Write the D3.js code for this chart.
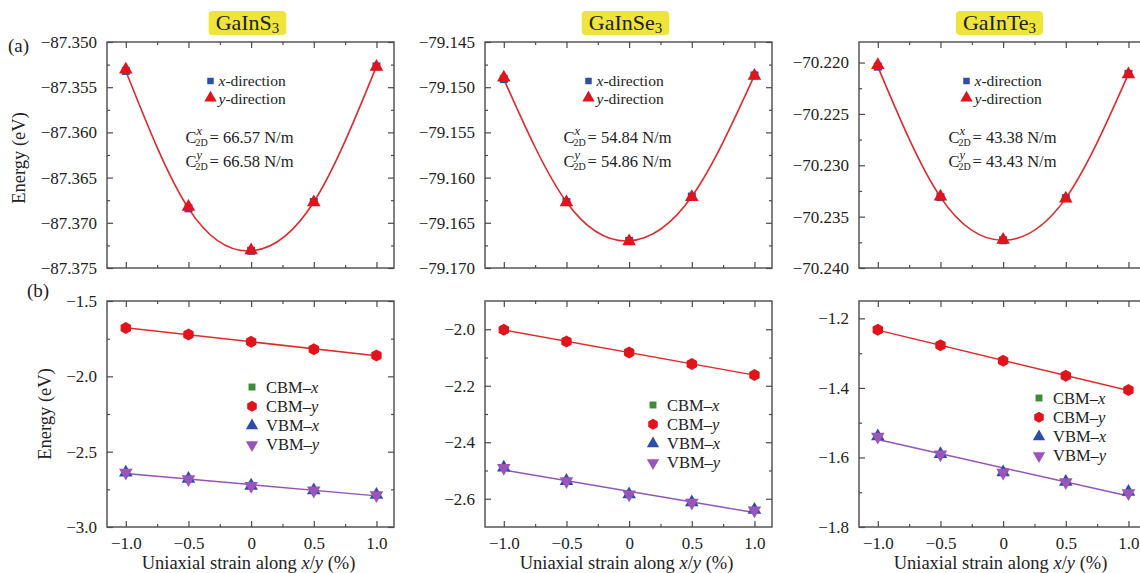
<!DOCTYPE html>
<html><head><meta charset="utf-8">
<script src="https://cdn.jsdelivr.net/npm/d3@7"></script>
<style>
body{margin:0;background:#fff}
svg{display:block}
text{font-family:"Liberation Serif","Times New Roman",serif;fill:#222}
</style>
</head><body><svg id="c" width="1140" height="573"></svg>
<script>
// ---------------- data ----------------
const strain = [-1, -0.5, 0, 0.5, 1];
const materialBase = ["GaInS", "GaInSe", "GaInTe"];
const materialSub = ["3", "3", "3"];
const c2dX = ["66.57", "54.84", "43.38"];
const c2dY = ["66.58", "54.86", "43.43"];

// total energy (eV) – panel (a)
const totalS_x  = [-87.3532, -87.3684, -87.3731, -87.3677, -87.3527];
const totalS_y  = [-87.3531, -87.3683, -87.3731, -87.3678, -87.3528];
const totalSe_x = [-79.1491, -79.1627, -79.1670, -79.1621, -79.1487];
const totalSe_y = [-79.1490, -79.1628, -79.1671, -79.1622, -79.1488];
const totalTe_x = [-70.2204, -70.2331, -70.2373, -70.2332, -70.2211];
const totalTe_y = [-70.2203, -70.2331, -70.2373, -70.2333, -70.2212];

// band edges (eV) – panel (b)
const cbmS_x  = [-1.679, -1.722, -1.771, -1.820, -1.862];
const cbmS_y  = [-1.679, -1.722, -1.771, -1.820, -1.862];
const vbmS_x  = [-2.639, -2.681, -2.726, -2.757, -2.787];
const vbmS_y  = [-2.640, -2.682, -2.727, -2.758, -2.788];
const cbmSe_x = [-2.002, -2.043, -2.082, -2.123, -2.162];
const cbmSe_y = [-2.002, -2.043, -2.082, -2.123, -2.162];
const vbmSe_x = [-2.490, -2.537, -2.584, -2.613, -2.639];
const vbmSe_y = [-2.491, -2.538, -2.585, -2.614, -2.641];
const cbmTe_x = [-1.233, -1.277, -1.322, -1.365, -1.406];
const cbmTe_y = [-1.233, -1.277, -1.322, -1.365, -1.406];
const vbmTe_x = [-1.539, -1.590, -1.643, -1.670, -1.699];
const vbmTe_y = [-1.540, -1.591, -1.644, -1.671, -1.703];

// ticks
const xTicks = [-1, -0.5, 0, 0.5, 1];
const xTickLabels = ["\u22121.0", "\u22120.5", "0", "0.5", "1.0"];
const topYTicks = [
  [-87.375, -87.370, -87.365, -87.360, -87.355, -87.350],
  [-79.170, -79.165, -79.160, -79.155, -79.150, -79.145],
  [-70.240, -70.235, -70.230, -70.225, -70.220]
];
const botYTicks = [
  [-3.0, -2.5, -2.0, -1.5],
  [-2.6, -2.4, -2.2, -2.0],
  [-1.8, -1.6, -1.4, -1.2]
];

// ---------------- layout ----------------
const svg = d3.select("#c");
const colLeft = [107, 485, 859];
const panelW = 287;
const topRow = [42, 268];
const botRow = [301, 527];
const xDomain = [-1.15, 1.14];
const topDomains = [[-87.375, -87.350], [-79.170, -79.145], [-70.240, -70.218]];
const botDomains = [[-3.0, -1.5], [-2.7, -1.9], [-1.8, -1.15]];
const topMinorStep = 0.0025;
const botMinorStep = [0.25, 0.1, 0.1];

const RED = "#e3131b", BLUE = "#2c4ea8", GREEN = "#3c8c3a", PURPLE = "#9a55b8";
const LINE_RED = "#de2a2a", LINE_PURPLE = "#9553b5";
const FRAME = "#4a4a4a";

const totalsX = [totalS_x, totalSe_x, totalTe_x];
const totalsY = [totalS_y, totalSe_y, totalTe_y];
const cbmX = [cbmS_x, cbmSe_x, cbmTe_x], cbmY = [cbmS_y, cbmSe_y, cbmTe_y];
const vbmX = [vbmS_x, vbmSe_x, vbmTe_x], vbmY = [vbmS_y, vbmSe_y, vbmTe_y];

const fmtMinus = s => s.replace("-", "\u2212");

function range(a, b, step) {
  const out = [];
  const n = Math.floor((b - a) / step + 1e-6);
  for (let i = 0; i <= n; i++) out.push(+(a + i * step).toFixed(6));
  return out;
}

function hexPath(r) {
  const pts = d3.range(6).map(i => {
    const a = Math.PI / 2 + i * Math.PI / 3;
    return [r * Math.cos(a), r * Math.sin(a)];
  });
  return "M" + pts.map(p => p.join(",")).join("L") + "Z";
}
const sq = d3.symbol(d3.symbolSquare, 64)();
const tri = d3.symbol(d3.symbolTriangle, 80)();
const triSmall = d3.symbol(d3.symbolTriangle, 66)();

function linFit(xs, ys) {
  const mx = d3.mean(xs), my = d3.mean(ys);
  let num = 0, den = 0;
  xs.forEach((x, i) => { num += (x - mx) * (ys[i] - my); den += (x - mx) * (x - mx); });
  const b = num / den;
  return { b, a: my - b * mx };
}

function frameAxes(g, x, y, rowTop, rowBot, left, yTicks, yMinor, yFmt, showXLabels) {
  const xMinor = range(-1, 1, 0.25).filter(v => !xTicks.includes(v));
  const dom = y.domain();
  const yMinorOnly = yMinor.filter(v => !yTicks.some(t => Math.abs(t - v) < 1e-6))
    .filter(v => v > dom[0] + 1e-9 && v < dom[1] - 1e-9);
  g.append("g").attr("transform", `translate(0,${rowBot})`)
    .call(d3.axisBottom(x).tickValues(xTicks).tickSizeInner(-6).tickSizeOuter(0)
      .tickPadding(10).tickFormat((d, i) => showXLabels ? xTickLabels[i] : ""));
  g.append("g").attr("transform", `translate(0,${rowBot})`)
    .call(d3.axisBottom(x).tickValues(xMinor).tickSizeInner(-3).tickSizeOuter(0).tickFormat(""));
  g.append("g").attr("transform", `translate(0,${rowTop})`)
    .call(d3.axisTop(x).tickValues(xTicks).tickSizeInner(-6).tickSizeOuter(0).tickFormat(""));
  g.append("g").attr("transform", `translate(0,${rowTop})`)
    .call(d3.axisTop(x).tickValues(xMinor).tickSizeInner(-3).tickSizeOuter(0).tickFormat(""));
  g.append("g").attr("transform", `translate(${left},0)`)
    .call(d3.axisLeft(y).tickValues(yTicks).tickSizeInner(-6).tickSizeOuter(0).tickPadding(10)
      .tickFormat(d => fmtMinus(yFmt(d))));
  g.append("g").attr("transform", `translate(${left},0)`)
    .call(d3.axisLeft(y).tickValues(yMinorOnly).tickSizeInner(-3).tickSizeOuter(0).tickFormat(""));
  g.append("g").attr("transform", `translate(${left + panelW},0)`)
    .call(d3.axisRight(y).tickValues(yTicks).tickSizeInner(-6).tickSizeOuter(0).tickFormat(""));
  g.append("g").attr("transform", `translate(${left + panelW},0)`)
    .call(d3.axisRight(y).tickValues(yMinorOnly).tickSizeInner(-3).tickSizeOuter(0).tickFormat(""));
  g.selectAll(".domain").remove();
  g.selectAll(".tick line").attr("stroke", FRAME).attr("stroke-width", 1.2);
  g.selectAll(".tick text").attr("font-size", 17).attr("fill", "#222")
    .attr("font-family", '"Liberation Serif","Times New Roman",serif');
  g.append("rect").attr("x", left).attr("y", rowTop).attr("width", panelW).attr("height", rowBot - rowTop)
    .attr("fill", "none").attr("stroke", FRAME).attr("stroke-width", 1.4);
}

for (let p = 0; p < 3; p++) {
  const left = colLeft[p];
  const x = d3.scaleLinear().domain(xDomain).range([left, left + panelW]);

  // ---------- title ----------
  const cx = left + panelW / 2 - 3;
  const tg = svg.append("g");
  const tt = tg.append("text").attr("x", cx).attr("y", 30).attr("text-anchor", "middle")
    .attr("font-size", 22);
  tt.append("tspan").text(materialBase[p]);
  tt.append("tspan").attr("font-size", 15).attr("dy", 3).text(materialSub[p]);
  const bb = tt.node().getBBox();
  tg.insert("rect", "text").attr("x", bb.x - 7).attr("y", 11).attr("width", bb.width + 14)
    .attr("height", 24).attr("rx", 4).attr("fill", "#efe53a");

  // ---------- panel (a) ----------
  const yT = d3.scaleLinear().domain(topDomains[p]).range([topRow[1], topRow[0]]);
  const ga = svg.append("g");
  const yMinorT = range(topDomains[p][0], topDomains[p][1], topMinorStep);
  frameAxes(ga, x, yT, topRow[0], topRow[1], left, topYTicks[p], yMinorT, d3.format(".3f"), false);

  const curve = d3.line().x((d, i) => x(strain[i])).y(d => yT(d)).curve(d3.curveNatural);
  ga.append("path").attr("d", curve(totalsX[p])).attr("fill", "none")
    .attr("stroke", LINE_RED).attr("stroke-width", 1.6);
  ga.selectAll(".sq").data(totalsX[p]).join("path")
    .attr("transform", (d, i) => `translate(${x(strain[i])},${yT(d)})`)
    .attr("d", sq).attr("fill", BLUE);
  ga.selectAll(".tr").data(totalsY[p]).join("path")
    .attr("transform", (d, i) => `translate(${x(strain[i])},${yT(d) - 0.5})`)
    .attr("d", tri).attr("fill", RED);

  // legend (a)
  const lx = left + panelW / 2 - 40 + (p === 2 ? 4 : 0);
  ga.append("path").attr("transform", `translate(${lx},81)`).attr("d", d3.symbol(d3.symbolSquare, 42)()).attr("fill", BLUE);
  ga.append("path").attr("transform", `translate(${lx},98)`).attr("d", triSmall).attr("fill", RED);
  const l1 = ga.append("text").attr("x", lx + 8).attr("y", 86).attr("font-size", 15.5);
  l1.append("tspan").attr("font-style", "italic").text("x");
  l1.append("tspan").text("-direction");
  const l2 = ga.append("text").attr("x", lx + 8).attr("y", 103.5).attr("font-size", 15.5);
  l2.append("tspan").attr("font-style", "italic").text("y");
  l2.append("tspan").text("-direction");

  // C2D texts
  const ccx = left + panelW / 2 - 65 + (p === 2 ? 11 : 0);
  [[c2dX[p], "x", 143], [c2dY[p], "y", 167]].forEach(([val, dir, by]) => {
    ga.append("text").attr("x", ccx).attr("y", by).attr("font-size", 16.5).text("C");
    ga.append("text").attr("x", ccx + 11).attr("y", by - 8).attr("font-size", 12.5)
      .attr("font-style", "italic").text(dir);
    ga.append("text").attr("x", ccx + 10).attr("y", by + 3).attr("font-size", 10).text("2D");
    ga.append("text").attr("x", ccx + 24).attr("y", by).attr("font-size", 16.5).text("= " + val + " N/m");
  });

  // ---------- panel (b) ----------
  const yB = d3.scaleLinear().domain(botDomains[p]).range([botRow[1], botRow[0]]);
  const gb = svg.append("g");
  const yMinorB = range(botDomains[p][0], botDomains[p][1], botMinorStep[p]);
  frameAxes(gb, x, yB, botRow[0], botRow[1], left, botYTicks[p], yMinorB, d3.format(".1f"), true);

  const fitC = linFit(strain, cbmY[p]);
  const fitV = linFit(strain, vbmY[p]);
  const xr = [strain[0], strain[strain.length - 1]];
  const fitLine = d3.line().x(d => x(d[0])).y(d => yB(d[1]));
  gb.append("path").attr("d", fitLine(xr.map(s => [s, fitC.a + fitC.b * s])))
    .attr("stroke", LINE_RED).attr("stroke-width", 1.5).attr("fill", "none");
  gb.append("path").attr("d", fitLine(xr.map(s => [s, fitV.a + fitV.b * s])))
    .attr("stroke", LINE_PURPLE).attr("stroke-width", 1.5).attr("fill", "none");

  const hex = hexPath(6);
  gb.selectAll(".cx").data(cbmX[p]).join("path")
    .attr("transform", (d, i) => `translate(${x(strain[i])},${yB(d)})`)
    .attr("d", sq).attr("fill", GREEN);
  gb.selectAll(".cy").data(cbmY[p]).join("path")
    .attr("transform", (d, i) => `translate(${x(strain[i])},${yB(d)})`)
    .attr("d", hex).attr("fill", RED);
  gb.selectAll(".vx").data(vbmX[p]).join("path")
    .attr("transform", (d, i) => `translate(${x(strain[i])},${yB(d)})`)
    .attr("d", tri).attr("fill", BLUE);
  gb.selectAll(".vy").data(vbmY[p]).join("path")
    .attr("transform", (d, i) => `translate(${x(strain[i])},${yB(d)}) rotate(180)`)
    .attr("d", tri).attr("fill", PURPLE);

  // legend (b)
  const legX = [252, 653, 1039][p];
  const legY = [387, 405, 398][p];
  const items = [
    ["CBM\u2013", "x", GREEN, "sq"], ["CBM\u2013", "y", RED, "hex"],
    ["VBM\u2013", "x", BLUE, "up"], ["VBM\u2013", "y", PURPLE, "down"]
  ];
  items.forEach((it, k) => {
    const yy = legY + k * 19.3;
    let d, tr = `translate(${legX},${yy})`;
    if (it[3] === "sq") d = d3.symbol(d3.symbolSquare, 48)();
    else if (it[3] === "hex") d = hexPath(5.5);
    else if (it[3] === "up") d = triSmall;
    else { d = triSmall; tr += " rotate(180)"; }
    gb.append("path").attr("transform", tr).attr("d", d).attr("fill", it[2]);
    const t = gb.append("text").attr("x", legX + 14).attr("y", yy + 5.5).attr("font-size", 16.5);
    t.append("tspan").text(it[0]);
    t.append("tspan").attr("font-style", "italic").text(it[1]);
  });

  // x axis title
  const xt = gb.append("text").attr("x", left + panelW / 2 - 2).attr("y", 569)
    .attr("text-anchor", "middle").attr("font-size", 18.5);
  xt.append("tspan").text("Uniaxial strain along ");
  xt.append("tspan").attr("font-style", "italic").text("x");
  xt.append("tspan").text("/");
  xt.append("tspan").attr("font-style", "italic").text("y");
  xt.append("tspan").text(" (%)");
}

// y titles & panel tags
svg.append("text").attr("transform", "translate(25,158) rotate(-90)").attr("text-anchor", "middle")
  .attr("font-size", 18.5).text("Energy (eV)");
svg.append("text").attr("transform", "translate(51,414) rotate(-90)").attr("text-anchor", "middle")
  .attr("font-size", 18.5).text("Energy (eV)");
svg.append("text").attr("x", 8).attr("y", 52).attr("font-size", 19).text("(a)");
svg.append("text").attr("x", 27).attr("y", 297).attr("font-size", 19).text("(b)");
</script>
</body></html>
